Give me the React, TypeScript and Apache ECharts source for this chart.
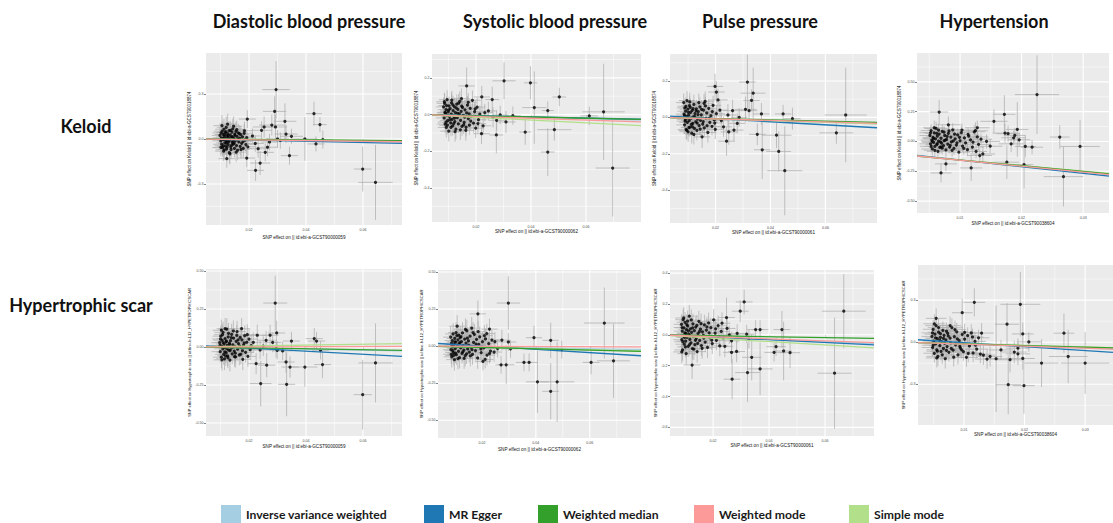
import React, { useEffect, useRef } from "react";
import * as echarts from "echarts";

// ---------- labels ----------
const METHODS = ["Inverse variance weighted", "MR Egger", "Weighted median", "Weighted mode", "Simple mode"];
const METHOD_COLORS = ["#a6cee3", "#1f78b4", "#33a02c", "#fb9a99", "#b2df8a"];
// ggplot draws the ablines in alphabetical order: IVW, Egger, Simple mode, W. median, W. mode
const DRAW_ORDER = [0, 1, 4, 2, 3];
const COLUMN_TITLES = ["Diastolic blood pressure", "Systolic blood pressure", "Pulse pressure", "Hypertension"];
const ROW_LABELS = ["Keloid", "Hypertrophic scar"];
const X_TITLES = [
  "SNP effect on || id:ebi-a-GCST90000059",
  "SNP effect on || id:ebi-a-GCST90000062",
  "SNP effect on || id:ebi-a-GCST90000061",
  "SNP effect on || id:ebi-a-GCST90038604",
];
const Y_TITLES = [
  "SNP effect on Keloid || id:ebi-a-GCST90018874",
  "SNP effect on Hypertrophic scar || id:finn-b-L12_HYPETROPHICSCAR",
];

// ---------- tick values ----------
const xTicksBP = [0.02, 0.04, 0.06];
const xMinorBP = [0.01, 0.03, 0.05, 0.07];
const xTicksHyp = [0.01, 0.02, 0.03];
const xMinorHyp = [0.005, 0.015, 0.025];
const yTicks03 = [-0.3, 0, 0.3];
const yMinor03 = [-0.45, -0.15, 0.15, 0.45];
const yTicks02 = [-0.4, -0.2, 0, 0.2];
const yMinor02 = [-0.5, -0.3, -0.1, 0.1, 0.3];
const yTicks025 = [-0.5, -0.25, 0, 0.25, 0.5];
const yMinor025 = [-0.625, -0.375, -0.125, 0.125, 0.375, 0.625];
const yTicks02b = [-0.6, -0.4, -0.2, 0, 0.2, 0.4];
const yMinor02b = [-0.5, -0.3, -0.1, 0.1, 0.3];

// ---------- SNP data: [beta exposure, beta outcome, se exposure, se outcome] ----------
const diaKeloid = [
  [0.0098,0.024,0.0028,0.055],[0.0101,-0.012,0.0029,0.06],[0.0103,0.008,0.003,0.058],[0.0104,-0.035,0.003,0.062],[0.0106,0.052,0.003,0.065],
  [0.0107,-0.058,0.0031,0.06],[0.0109,0.031,0.003,0.057],[0.011,-0.004,0.0032,0.05],[0.0111,-0.081,0.003,0.066],[0.0112,0.065,0.0031,0.07],
  [0.0113,0.014,0.003,0.052],[0.0115,-0.026,0.003,0.055],[0.0116,0.043,0.0032,0.06],[0.0117,-0.047,0.003,0.058],[0.0119,0.002,0.003,0.05],
  [0.012,0.078,0.0033,0.07],[0.0121,-0.068,0.003,0.062],[0.0122,0.021,0.003,0.055],[0.0124,-0.016,0.0031,0.052],[0.0125,0.036,0.003,0.06],
  [0.0127,-0.038,0.0031,0.057],[0.0128,0.009,0.003,0.05],[0.013,0.056,0.0033,0.063],[0.0131,-0.091,0.003,0.07],[0.0133,-0.006,0.0031,0.053],
  [0.0134,0.027,0.003,0.058],[0.0136,-0.052,0.0032,0.06],[0.0138,0.012,0.003,0.05],[0.014,0.046,0.0033,0.064],[0.0141,-0.022,0.003,0.056],
  [0.0143,0.068,0.0031,0.066],[0.0145,-0.034,0.003,0.058],[0.0147,0.004,0.0032,0.052],[0.0149,-0.063,0.003,0.06],[0.015,0.033,0.0031,0.059],
  [0.0152,-0.011,0.003,0.054],[0.0154,0.051,0.0032,0.064],[0.0156,-0.044,0.003,0.058],[0.0158,0.017,0.003,0.055],[0.016,-0.075,0.0031,0.065],
  [0.0162,0.041,0.003,0.06],[0.0164,-0.019,0.0032,0.057],[0.0167,0.006,0.003,0.054],[0.0169,-0.05,0.003,0.06],[0.0171,0.029,0.0031,0.058],
  [0.0174,-0.029,0.003,0.06],[0.0177,0.014,0.0032,0.055],[0.018,-0.062,0.003,0.063],[0.0183,0.038,0.0031,0.06],[0.0186,-0.008,0.003,0.056],
  [0.0189,-0.037,0.003,0.058],[0.0192,0.009,0.0031,0.055],[0.0196,-0.052,0.003,0.06],
  [0.0102,0.041,0.003,0.06],[0.0118,-0.009,0.003,0.055],[0.0109,-0.045,0.003,0.06],[0.0135,0.058,0.003,0.06],[0.0127,0.024,0.003,0.055],
  [0.0113,-0.072,0.003,0.065],[0.0148,-0.028,0.003,0.055],[0.0142,0.016,0.003,0.055],[0.0123,-0.054,0.003,0.06],[0.0105,0.089,0.003,0.07],
  [0.0157,0.062,0.003,0.06],[0.0133,-0.099,0.003,0.07],[0.0161,-0.003,0.003,0.055],[0.0119,0.049,0.003,0.06],[0.0139,-0.041,0.003,0.058],
  [0.0172,-0.07,0.003,0.06],[0.0108,0.003,0.003,0.052],[0.0151,0.024,0.003,0.056],[0.0129,-0.018,0.003,0.055],[0.0146,0.085,0.003,0.065],
  [0.0114,0.028,0.003,0.056],[0.0166,0.036,0.003,0.058],[0.0125,0.099,0.003,0.07],[0.0179,-0.018,0.003,0.057],[0.0137,-0.07,0.003,0.06],
  [0.0101,-0.056,0.003,0.06],[0.0155,-0.088,0.003,0.065],[0.0184,0.055,0.003,0.06],[0.0121,-0.028,0.003,0.055],[0.0144,-0.012,0.003,0.055],
  [0.0295,0.329,0.0048,0.19],[0.029,0.184,0.0041,0.1],[0.0326,0.118,0.004,0.12],[0.028,0.093,0.0045,0.07],[0.0293,0.08,0.004,0.08],
  [0.0194,0.133,0.003,0.06],[0.0244,0.058,0.0035,0.06],[0.0253,0.08,0.004,0.07],[0.03,0.0,0.004,0.06],[0.031,-0.01,0.0038,0.055],
  [0.0428,0.169,0.0028,0.08],[0.0449,0.096,0.0024,0.05],[0.0459,-0.004,0.0035,0.06],[0.0435,-0.033,0.003,0.05],[0.0396,0.0,0.0044,0.145],
  [0.0342,-0.111,0.003,0.06],[0.0349,0.018,0.004,0.05],[0.033,0.033,0.004,0.06],[0.0192,-0.127,0.003,0.06],[0.0122,-0.131,0.003,0.06],
  [0.0223,-0.209,0.003,0.07],[0.0239,-0.16,0.0035,0.08],[0.0257,-0.089,0.003,0.06],[0.0265,-0.055,0.0035,0.06],[0.0272,-0.02,0.003,0.055],
  [0.0222,-0.03,0.003,0.055],[0.0232,-0.065,0.003,0.06],[0.0212,0.02,0.003,0.05],[0.0599,-0.2,0.0031,0.15],[0.0644,-0.289,0.006,0.25],
];

const sysKeloid = [
  [0.0082,0.042,0.0028,0.05],[0.0084,-0.018,0.003,0.048],[0.0086,0.061,0.0029,0.052],[0.0088,-0.052,0.003,0.05],[0.0089,0.008,0.0028,0.045],
  [0.0091,0.027,0.003,0.05],[0.0092,-0.07,0.0031,0.055],[0.0094,-0.003,0.003,0.046],[0.0095,0.081,0.003,0.052],[0.0097,-0.033,0.0029,0.05],
  [0.0099,0.015,0.003,0.047],[0.0101,-0.09,0.0031,0.056],[0.0102,0.048,0.003,0.05],[0.0104,-0.011,0.003,0.046],[0.0106,0.032,0.0029,0.05],
  [0.0108,-0.045,0.003,0.052],[0.011,0.002,0.003,0.045],[0.0111,0.064,0.0031,0.054],[0.0113,-0.026,0.003,0.048],[0.0115,-0.062,0.003,0.052],
  [0.0117,0.021,0.0029,0.047],[0.0119,-0.008,0.003,0.046],[0.0121,0.044,0.003,0.05],[0.0123,-0.038,0.0031,0.05],[0.0125,0.011,0.003,0.046],
  [0.0127,-0.079,0.003,0.055],[0.013,0.057,0.0031,0.052],[0.0132,-0.017,0.003,0.047],[0.0134,0.029,0.003,0.049],[0.0136,-0.051,0.003,0.05],
  [0.0139,0.004,0.003,0.046],[0.0141,0.072,0.0032,0.055],[0.0144,-0.031,0.003,0.048],[0.0146,0.018,0.003,0.047],[0.0149,-0.064,0.0031,0.052],
  [0.0151,0.039,0.003,0.05],[0.0154,-0.005,0.003,0.046],[0.0157,-0.042,0.003,0.05],[0.016,0.026,0.0031,0.049],[0.0163,-0.086,0.003,0.056],
  [0.0166,0.009,0.003,0.047],[0.0169,0.052,0.0031,0.05],[0.0172,-0.022,0.003,0.048],[0.0176,-0.058,0.003,0.052],[0.0179,0.034,0.003,0.05],
  [0.0183,-0.01,0.0031,0.047],[0.0187,0.078,0.003,0.053],[0.0191,-0.047,0.003,0.05],[0.0195,0.016,0.003,0.048],[0.0199,-0.074,0.0031,0.054],
  [0.0204,0.041,0.003,0.05],[0.0209,-0.028,0.003,0.049],[0.0214,0.003,0.0031,0.047],[0.022,-0.104,0.003,0.056],[0.0226,-0.061,0.003,0.05],
  [0.0232,0.011,0.003,0.048],
  [0.0087,0.012,0.003,0.05],[0.0112,0.079,0.003,0.05],[0.0096,-0.058,0.003,0.05],[0.0128,0.036,0.003,0.05],[0.0105,-0.028,0.003,0.05],
  [0.0143,-0.083,0.003,0.055],[0.0093,0.049,0.003,0.05],[0.0119,-0.049,0.003,0.05],[0.0137,0.062,0.003,0.05],[0.0159,-0.014,0.003,0.05],
  [0.01,0.024,0.003,0.05],[0.0124,-0.093,0.003,0.055],[0.0148,0.046,0.003,0.05],[0.0172,0.067,0.003,0.05],[0.0109,-0.069,0.003,0.05],
  [0.0133,0.007,0.003,0.05],[0.0181,-0.035,0.003,0.05],[0.0155,-0.056,0.003,0.05],[0.0091,-0.041,0.003,0.05],[0.0116,0.053,0.003,0.05],
  [0.0197,0.031,0.003,0.05],[0.0164,-0.069,0.003,0.05],[0.0139,-0.004,0.003,0.05],[0.0085,0.07,0.003,0.05],[0.0207,-0.049,0.003,0.05],
  [0.0122,-0.019,0.003,0.05],[0.0175,0.004,0.003,0.05],[0.0147,0.087,0.003,0.055],
  [0.0166,0.156,0.003,0.1],[0.0302,0.184,0.0042,0.1],[0.0398,0.173,0.0024,0.09],[0.0412,0.038,0.0044,0.197],[0.0461,0.022,0.0022,0.05],
  [0.0503,0.096,0.0025,0.05],[0.0379,-0.095,0.0022,0.07],[0.0485,-0.082,0.0062,0.06],[0.0461,-0.204,0.0025,0.13],[0.0612,-0.007,0.0032,0.05],
  [0.0664,0.015,0.0077,0.262],[0.0697,-0.291,0.0062,0.264],[0.0274,-0.111,0.0025,0.1],[0.0259,0.082,0.0025,0.07],[0.0309,-0.04,0.0035,0.06],
  [0.0275,-0.031,0.003,0.055],[0.0221,0.096,0.003,0.06],[0.0245,0.02,0.003,0.05],[0.0262,-0.015,0.0035,0.055],[0.0288,-0.002,0.003,0.05],
  [0.0334,-0.006,0.003,0.05],
];

const pulseKeloid = [
  [0.0084,0.081,0.0028,0.05],[0.0085,0.018,0.003,0.048],[0.0087,-0.041,0.003,0.05],[0.0088,0.052,0.0029,0.05],[0.009,-0.012,0.003,0.046],
  [0.0091,0.034,0.003,0.049],[0.0093,-0.066,0.0031,0.055],[0.0094,0.006,0.003,0.046],[0.0096,0.092,0.003,0.052],[0.0097,-0.028,0.0029,0.048],
  [0.0099,0.045,0.003,0.05],[0.01,-0.079,0.0031,0.055],[0.0102,0.012,0.003,0.046],[0.0104,-0.018,0.003,0.047],[0.0105,0.064,0.003,0.052],
  [0.0107,-0.053,0.003,0.05],[0.0109,0.027,0.0029,0.048],[0.0111,-0.004,0.003,0.046],[0.0113,-0.087,0.0031,0.056],[0.0115,0.039,0.003,0.05],
  [0.0117,-0.033,0.003,0.048],[0.0119,0.003,0.003,0.046],[0.0121,0.071,0.0031,0.053],[0.0123,-0.061,0.003,0.052],[0.0125,0.021,0.003,0.048],
  [0.0128,-0.024,0.0031,0.048],[0.013,0.047,0.003,0.05],[0.0132,-0.072,0.003,0.054],[0.0135,-0.009,0.003,0.046],[0.0137,0.031,0.0031,0.049],
  [0.014,-0.045,0.003,0.05],[0.0143,0.058,0.003,0.052],[0.0145,-0.016,0.003,0.047],[0.0148,0.014,0.0031,0.047],[0.0151,-0.107,0.003,0.06],
  [0.0153,-0.037,0.003,0.049],[0.0156,0.04,0.003,0.05],[0.0159,-0.058,0.0031,0.052],[0.0162,0.088,0.003,0.054],[0.0165,-0.006,0.003,0.046],
  [0.0168,0.024,0.003,0.048],[0.0172,-0.083,0.0031,0.055],[0.0175,0.05,0.003,0.05],[0.0179,-0.027,0.003,0.048],[0.0183,0.009,0.003,0.047],
  [0.0187,-0.049,0.0031,0.05],[0.0191,0.066,0.003,0.052],[0.0195,-0.014,0.003,0.047],[0.0199,-0.066,0.003,0.053],[0.0203,0.02,0.0031,0.048],
  [0.0089,-0.021,0.003,0.05],[0.0108,0.055,0.003,0.05],[0.0095,-0.072,0.003,0.05],[0.0124,0.004,0.003,0.05],[0.0101,0.028,0.003,0.05],
  [0.0139,0.081,0.003,0.05],[0.0092,0.061,0.003,0.05],[0.0116,-0.052,0.003,0.05],[0.0133,-0.031,0.003,0.05],[0.0149,0.044,0.003,0.05],
  [0.0098,-0.003,0.003,0.05],[0.0121,-0.094,0.003,0.055],[0.0144,-0.064,0.003,0.05],[0.0163,0.063,0.003,0.05],[0.0106,0.085,0.003,0.05],
  [0.0129,0.036,0.003,0.05],[0.0177,-0.006,0.003,0.05],[0.0155,-0.023,0.003,0.05],[0.0087,0.009,0.003,0.05],[0.0112,-0.039,0.003,0.05],
  [0.0188,0.032,0.003,0.05],[0.0169,-0.046,0.003,0.05],[0.0136,0.015,0.003,0.05],[0.0103,-0.056,0.003,0.05],[0.0197,-0.031,0.003,0.05],
  [0.0118,0.048,0.003,0.05],[0.0158,0.077,0.003,0.05],
  [0.0316,0.194,0.003,0.15],[0.0337,0.133,0.0045,0.14],[0.0331,0.093,0.003,0.06],[0.0322,0.037,0.003,0.06],[0.0309,0.044,0.004,0.07],
  [0.0198,0.17,0.003,0.07],[0.0203,0.139,0.003,0.06],[0.0209,0.096,0.0035,0.06],[0.0367,0.019,0.003,0.06],[0.0352,-0.093,0.003,0.06],
  [0.037,-0.178,0.003,0.16],[0.0422,-0.098,0.0055,0.07],[0.0446,0.019,0.003,0.05],[0.048,-0.007,0.003,0.06],[0.043,-0.187,0.0045,0.11],
  [0.0452,-0.293,0.0064,0.245],[0.0674,0.013,0.0077,0.26],[0.064,-0.085,0.0062,0.06],[0.024,-0.131,0.003,0.08],[0.0248,-0.08,0.003,0.07],
  [0.0267,-0.07,0.0035,0.06],[0.0245,0.013,0.003,0.06],[0.0286,0.0,0.003,0.05],[0.0262,0.037,0.0035,0.06],[0.0279,-0.033,0.003,0.055],
  [0.0221,-0.018,0.003,0.05],[0.0229,-0.052,0.003,0.055],[0.0216,0.04,0.003,0.055],
];

const hypKeloid = [
  [0.0051,0.05,0.0017,0.05],[0.0052,-0.02,0.0018,0.052],[0.0053,0.091,0.0017,0.055],[0.0054,0.012,0.0018,0.048],[0.0055,-0.063,0.0018,0.056],
  [0.0056,0.034,0.0017,0.05],[0.0057,-0.008,0.0018,0.05],[0.0058,0.073,0.0018,0.054],[0.0059,-0.041,0.0017,0.052],[0.006,0.021,0.0018,0.049],
  [0.0061,0.109,0.0019,0.058],[0.0062,-0.027,0.0018,0.05],[0.0063,0.044,0.0018,0.05],[0.0064,-0.083,0.0018,0.058],[0.0065,0.002,0.0017,0.048],
  [0.0066,0.062,0.0018,0.052],[0.0067,-0.05,0.0018,0.053],[0.0069,0.027,0.0018,0.05],[0.007,-0.014,0.0017,0.049],[0.0071,0.085,0.0019,0.056],
  [0.0073,-0.034,0.0018,0.051],[0.0074,0.008,0.0018,0.048],[0.0075,0.05,0.0018,0.05],[0.0077,-0.071,0.0018,0.056],[0.0078,0.017,0.0017,0.049],
  [0.008,-0.022,0.0018,0.05],[0.0081,0.068,0.0018,0.053],[0.0083,-0.047,0.0018,0.052],[0.0085,0.037,0.0019,0.05],[0.0086,-0.004,0.0018,0.048],
  [0.0088,0.098,0.0018,0.056],[0.009,-0.058,0.0018,0.054],[0.0092,0.022,0.0018,0.049],[0.0094,-0.03,0.0019,0.05],[0.0096,0.055,0.0018,0.052],
  [0.0098,-0.09,0.0018,0.058],[0.01,0.006,0.0018,0.048],[0.0102,0.074,0.0019,0.054],[0.0104,-0.039,0.0018,0.05],[0.0107,0.03,0.0018,0.05],
  [0.0109,-0.012,0.0018,0.049],[0.0112,-0.069,0.0019,0.055],[0.0114,0.045,0.0018,0.05],[0.0117,0.013,0.0018,0.048],[0.012,-0.047,0.0019,0.052],
  [0.0123,0.081,0.0018,0.054],[0.0126,-0.084,0.0018,0.057],[0.013,-0.025,0.0019,0.05],[0.0134,0.019,0.0018,0.048],
  [0.0053,-0.041,0.0018,0.05],[0.0062,0.067,0.0018,0.05],[0.0057,0.025,0.0018,0.05],[0.0071,-0.056,0.0018,0.05],[0.0059,-0.074,0.0018,0.055],
  [0.0079,0.042,0.0018,0.05],[0.0065,0.095,0.0018,0.055],[0.0068,-0.003,0.0018,0.05],[0.0084,-0.032,0.0018,0.05],[0.0055,0.0,0.0018,0.05],
  [0.0074,0.078,0.0018,0.05],[0.0091,0.061,0.0018,0.05],[0.0063,-0.019,0.0018,0.05],[0.0087,-0.075,0.0018,0.055],[0.0099,0.035,0.0018,0.05],
  [0.0076,0.011,0.0018,0.05],[0.0106,-0.058,0.0018,0.05],[0.0058,0.115,0.0018,0.06],[0.0082,0.088,0.0018,0.055],[0.0095,-0.011,0.0018,0.05],
  [0.0113,0.06,0.0018,0.05],[0.0069,-0.045,0.0018,0.05],[0.0121,-0.006,0.0018,0.05],[0.0103,0.096,0.0018,0.055],[0.0052,0.073,0.0018,0.05],
  [0.0128,0.038,0.0018,0.05],[0.0089,0.004,0.0018,0.05],
  [0.0225,0.393,0.0036,0.33],[0.0172,0.228,0.0018,0.16],[0.0155,0.169,0.0022,0.1],[0.0193,0.101,0.0018,0.23],[0.0173,0.07,0.002,0.08],
  [0.0178,0.065,0.0019,0.07],[0.0189,0.051,0.0018,0.06],[0.0187,0.031,0.002,0.06],[0.0196,0.014,0.0018,0.06],[0.0183,-0.02,0.002,0.07],
  [0.0206,-0.042,0.0017,0.09],[0.0217,-0.048,0.0018,0.06],[0.0176,-0.174,0.002,0.14],[0.0204,-0.194,0.0015,0.2],[0.0262,0.037,0.0016,0.1],
  [0.0295,-0.042,0.0032,0.22],[0.0268,-0.295,0.0032,0.25],[0.0066,0.247,0.0015,0.1],[0.0069,-0.264,0.0017,0.08],[0.0077,-0.188,0.0018,0.06],
  [0.0081,0.14,0.002,0.07],[0.0118,-0.222,0.0018,0.11],[0.0128,0.115,0.002,0.06],[0.0143,0.0,0.0022,0.06],[0.0137,-0.105,0.002,0.06],
  [0.0132,-0.118,0.002,0.06],[0.0149,-0.04,0.002,0.06],[0.0125,0.09,0.002,0.07],
];

const diaScar = [
  [0.0097,0.028,0.003,0.065],[0.0099,-0.031,0.003,0.07],[0.0101,0.071,0.0029,0.068],[0.0103,-0.067,0.003,0.072],[0.0104,0.006,0.003,0.062],
  [0.0106,0.044,0.0031,0.066],[0.0108,-0.012,0.003,0.064],[0.0109,0.096,0.003,0.07],[0.0111,-0.049,0.003,0.068],[0.0113,0.019,0.0029,0.063],
  [0.0114,-0.078,0.003,0.074],[0.0116,0.055,0.003,0.066],[0.0117,-0.004,0.003,0.062],[0.0119,0.033,0.0031,0.065],[0.012,-0.038,0.003,0.066],
  [0.0122,0.118,0.003,0.072],[0.0124,0.011,0.003,0.063],[0.0125,-0.059,0.0031,0.07],[0.0127,0.067,0.003,0.068],[0.0129,-0.021,0.003,0.064],
  [0.0131,0.025,0.003,0.064],[0.0133,-0.086,0.0031,0.074],[0.0135,0.041,0.003,0.066],[0.0137,-0.008,0.003,0.063],[0.0139,0.083,0.003,0.07],
  [0.0141,-0.045,0.0031,0.067],[0.0143,0.014,0.003,0.063],[0.0146,0.058,0.003,0.067],[0.0148,-0.027,0.003,0.064],[0.015,0.002,0.0031,0.062],
  [0.0153,-0.066,0.003,0.07],[0.0155,0.036,0.003,0.065],[0.0158,0.101,0.003,0.071],[0.016,-0.015,0.0031,0.064],[0.0163,0.022,0.003,0.064],
  [0.0166,-0.053,0.003,0.068],[0.0169,0.063,0.003,0.067],[0.0172,-0.003,0.0031,0.062],[0.0175,0.047,0.003,0.066],[0.0178,-0.081,0.003,0.072],
  [0.0181,0.012,0.003,0.063],[0.0185,0.074,0.0031,0.068],[0.0188,-0.036,0.003,0.066],[0.0192,0.031,0.003,0.064],[0.0196,-0.062,0.003,0.069],
  [0.02,0.052,0.0031,0.066],[0.0204,-0.018,0.003,0.064],[0.0208,0.008,0.003,0.063],
  [0.01,0.052,0.003,0.065],[0.0118,-0.059,0.003,0.065],[0.0107,0.081,0.003,0.068],[0.0134,-0.024,0.003,0.064],[0.0112,-0.002,0.003,0.062],
  [0.0145,0.105,0.003,0.07],[0.0121,0.038,0.003,0.064],[0.0105,-0.085,0.003,0.07],[0.0128,0.09,0.003,0.068],[0.0152,-0.041,0.003,0.065],
  [0.0098,0.01,0.003,0.063],[0.0138,0.061,0.003,0.066],[0.0162,0.047,0.003,0.065],[0.0115,-0.033,0.003,0.064],[0.0126,-0.071,0.003,0.068],
  [0.0171,-0.048,0.003,0.066],[0.0142,-0.003,0.003,0.062],[0.0109,0.029,0.003,0.063],[0.0157,0.076,0.003,0.067],[0.0132,0.016,0.003,0.063],
  [0.0183,0.026,0.003,0.064],[0.0149,-0.064,0.003,0.067],[0.0194,0.081,0.003,0.068],[0.0123,-0.013,0.003,0.063],[0.0167,0.006,0.003,0.063],
  [0.0103,0.11,0.003,0.07],[0.0177,-0.025,0.003,0.064],
  [0.0292,0.289,0.0042,0.18],[0.0332,-0.246,0.003,0.21],[0.0241,-0.241,0.0038,0.15],[0.0599,-0.314,0.0032,0.23],[0.0644,-0.105,0.006,0.26],
  [0.0429,0.055,0.003,0.07],[0.0437,0.039,0.003,0.06],[0.0458,-0.116,0.003,0.09],[0.0451,-0.022,0.003,0.06],[0.0396,-0.132,0.0044,0.13],
  [0.0344,-0.132,0.003,0.07],[0.0349,0.039,0.003,0.06],[0.033,-0.099,0.003,0.07],[0.0297,0.092,0.003,0.08],[0.026,0.044,0.003,0.06],
  [0.0274,0.077,0.003,0.07],[0.0262,-0.12,0.003,0.08],[0.0225,-0.11,0.003,0.07],[0.0229,0.077,0.003,0.07],[0.0239,-0.02,0.003,0.06],
  [0.0295,-0.011,0.003,0.06],[0.0299,-0.022,0.003,0.06],[0.0318,-0.026,0.0035,0.06],[0.0174,0.12,0.003,0.07],[0.0116,0.12,0.003,0.07],
  [0.0215,0.03,0.003,0.065],[0.025,0.005,0.0035,0.065],[0.0283,0.03,0.003,0.065],
];

const sysScar = [
  [0.0084,0.061,0.0028,0.07],[0.0085,-0.024,0.003,0.068],[0.0087,0.019,0.003,0.066],[0.0088,-0.072,0.003,0.072],[0.009,0.038,0.0029,0.068],
  [0.0091,-0.005,0.003,0.065],[0.0093,0.083,0.003,0.072],[0.0094,-0.043,0.003,0.068],[0.0096,0.01,0.0029,0.064],[0.0098,-0.091,0.0031,0.075],
  [0.0099,0.052,0.003,0.07],[0.0101,-0.016,0.003,0.066],[0.0103,0.027,0.003,0.066],[0.0105,-0.058,0.003,0.07],[0.0107,0.071,0.0031,0.072],
  [0.0109,-0.002,0.003,0.064],[0.0111,0.043,0.003,0.068],[0.0113,-0.035,0.003,0.067],[0.0115,0.015,0.003,0.065],[0.0117,-0.078,0.0031,0.073],
  [0.0119,0.058,0.003,0.07],[0.0121,-0.011,0.003,0.065],[0.0124,0.031,0.003,0.066],[0.0126,-0.049,0.0031,0.069],[0.0128,0.089,0.003,0.073],
  [0.0131,0.004,0.003,0.064],[0.0133,-0.027,0.003,0.066],[0.0136,0.048,0.0031,0.069],[0.0138,-0.064,0.003,0.071],[0.0141,0.021,0.003,0.065],
  [0.0144,0.104,0.003,0.074],[0.0147,-0.019,0.0031,0.066],[0.015,0.035,0.003,0.067],[0.0153,-0.041,0.003,0.068],[0.0156,0.067,0.003,0.07],
  [0.0159,-0.007,0.0031,0.065],[0.0162,0.122,0.003,0.075],[0.0165,-0.055,0.003,0.07],[0.0169,0.025,0.003,0.066],[0.0172,0.079,0.0031,0.071],
  [0.0176,-0.03,0.003,0.067],[0.018,0.045,0.003,0.068],[0.0184,-0.08,0.003,0.073],[0.0188,0.012,0.0031,0.065],[0.0192,0.062,0.003,0.07],
  [0.0197,-0.044,0.003,0.068],[0.0202,0.03,0.003,0.066],[0.0207,-0.012,0.0031,0.066],[0.0213,0.049,0.003,0.068],[0.0219,-0.061,0.003,0.07],
  [0.0225,0.017,0.003,0.066],[0.0232,-0.033,0.0031,0.067],[0.0237,0.041,0.003,0.068],
  [0.0089,0.004,0.003,0.066],[0.0104,0.092,0.003,0.07],[0.0095,-0.063,0.003,0.068],[0.0122,0.064,0.003,0.068],[0.0099,0.029,0.003,0.066],
  [0.0134,-0.083,0.003,0.07],[0.0092,-0.031,0.003,0.066],[0.0114,0.075,0.003,0.07],[0.0129,-0.038,0.003,0.067],[0.0146,0.054,0.003,0.068],
  [0.0102,-0.047,0.003,0.067],[0.0118,0.023,0.003,0.066],[0.0139,0.113,0.003,0.074],[0.0157,-0.066,0.003,0.07],[0.0108,0.135,0.003,0.075],
  [0.0125,-0.004,0.003,0.065],[0.0167,0.091,0.003,0.071],[0.0151,0.006,0.003,0.065],[0.0086,-0.055,0.003,0.068],[0.0111,-0.084,0.003,0.072],
  [0.0178,0.014,0.003,0.066],[0.0163,-0.024,0.003,0.066],[0.0186,0.098,0.003,0.072],[0.0143,-0.052,0.003,0.068],[0.0196,-0.019,0.003,0.066],
  [0.0209,0.071,0.003,0.07],[0.0228,-0.05,0.003,0.067],
  [0.0298,0.291,0.0043,0.18],[0.0185,0.218,0.003,0.09],[0.0228,0.115,0.003,0.07],[0.0274,0.041,0.003,0.07],[0.0298,0.028,0.003,0.06],
  [0.0306,-0.018,0.003,0.06],[0.0271,-0.126,0.0021,0.06],[0.029,-0.126,0.003,0.13],[0.0258,-0.016,0.003,0.06],[0.0393,0.057,0.003,0.08],
  [0.0356,-0.11,0.003,0.06],[0.0375,-0.11,0.003,0.06],[0.0406,-0.241,0.0043,0.21],[0.0455,0.039,0.003,0.12],[0.0479,-0.241,0.0064,0.27],
  [0.0455,-0.305,0.0031,0.19],[0.0496,-0.023,0.003,0.06],[0.0605,-0.11,0.0031,0.08],[0.0654,0.156,0.0075,0.24],[0.0688,-0.099,0.0061,0.25],
  [0.0204,-0.103,0.003,0.06],[0.0212,-0.09,0.003,0.06],[0.0245,-0.04,0.003,0.065],[0.0248,0.03,0.003,0.065],[0.0218,0.085,0.003,0.065],
];

const pulseScar = [
  [0.0087,0.068,0.0028,0.065],[0.0088,-0.032,0.003,0.066],[0.009,0.024,0.003,0.062],[0.0091,-0.098,0.003,0.07],[0.0093,0.098,0.0029,0.068],
  [0.0094,-0.008,0.003,0.062],[0.0096,0.045,0.003,0.064],[0.0097,-0.061,0.0031,0.068],[0.0099,0.012,0.003,0.062],[0.01,0.081,0.003,0.066],
  [0.0102,-0.041,0.003,0.065],[0.0104,-0.122,0.0031,0.072],[0.0105,0.033,0.003,0.063],[0.0107,-0.017,0.003,0.062],[0.0109,0.057,0.003,0.066],
  [0.0111,-0.075,0.0031,0.069],[0.0113,0.004,0.003,0.061],[0.0115,0.121,0.003,0.072],[0.0117,-0.029,0.003,0.064],[0.0119,0.039,0.0031,0.064],
  [0.0121,-0.052,0.003,0.066],[0.0123,0.016,0.003,0.062],[0.0126,-0.089,0.003,0.07],[0.0128,0.071,0.0031,0.067],[0.013,-0.011,0.003,0.062],
  [0.0133,0.027,0.003,0.063],[0.0135,-0.064,0.003,0.068],[0.0138,0.05,0.0031,0.065],[0.014,-0.023,0.003,0.063],[0.0143,-0.109,0.003,0.071],
  [0.0146,0.008,0.003,0.062],[0.0149,0.087,0.0031,0.068],[0.0152,-0.037,0.003,0.064],[0.0155,0.036,0.003,0.064],[0.0158,-0.07,0.003,0.068],
  [0.0162,0.019,0.0031,0.063],[0.0165,-0.004,0.003,0.062],[0.0169,0.064,0.003,0.066],[0.0172,-0.047,0.003,0.066],[0.0176,0.03,0.0031,0.064],
  [0.018,-0.082,0.003,0.069],[0.0184,0.077,0.003,0.067],[0.0188,-0.019,0.003,0.063],[0.0192,0.046,0.0031,0.065],[0.0197,-0.057,0.003,0.067],
  [0.0202,0.096,0.003,0.069],[0.0207,0.011,0.003,0.062],[0.0212,-0.036,0.0031,0.065],[0.0218,0.059,0.003,0.066],[0.0224,-0.072,0.003,0.068],
  [0.0229,0.022,0.003,0.063],
  [0.0089,0.047,0.003,0.064],[0.0101,-0.079,0.003,0.068],[0.0095,0.109,0.003,0.07],[0.0118,-0.007,0.003,0.062],[0.0106,0.066,0.003,0.066],
  [0.0131,-0.093,0.003,0.07],[0.0092,-0.045,0.003,0.065],[0.0112,0.025,0.003,0.063],[0.0127,0.045,0.003,0.065],[0.0145,-0.056,0.003,0.066],
  [0.0098,-0.017,0.003,0.063],[0.0122,0.096,0.003,0.068],[0.0137,-0.036,0.003,0.064],[0.0157,0.072,0.003,0.066],[0.0103,0.009,0.003,0.062],
  [0.0116,-0.063,0.003,0.067],[0.0167,-0.021,0.003,0.064],[0.0151,0.02,0.003,0.063],[0.0088,-0.111,0.003,0.072],[0.0109,0.089,0.003,0.068],
  [0.0178,0.051,0.003,0.065],[0.0161,-0.088,0.003,0.068],[0.0186,0.012,0.003,0.063],[0.0142,0.061,0.003,0.065],[0.0195,-0.034,0.003,0.064],
  [0.0209,0.039,0.003,0.064],[0.0221,-0.014,0.003,0.063],
  [0.0311,0.213,0.003,0.08],[0.0297,0.153,0.003,0.07],[0.0248,0.112,0.003,0.13],[0.025,0.041,0.003,0.07],[0.0286,0.009,0.003,0.06],
  [0.0266,-0.039,0.003,0.06],[0.0266,-0.114,0.003,0.07],[0.0284,-0.108,0.003,0.07],[0.0268,-0.288,0.003,0.13],[0.032,0.004,0.003,0.06],
  [0.0328,-0.028,0.003,0.06],[0.0338,-0.146,0.0035,0.15],[0.0323,-0.245,0.0044,0.19],[0.0352,0.034,0.003,0.06],[0.0368,0.034,0.003,0.06],
  [0.0368,-0.221,0.0045,0.17],[0.0418,-0.114,0.0035,0.06],[0.0425,-0.077,0.0035,0.06],[0.0446,0.034,0.003,0.12],[0.0452,-0.105,0.003,0.19],
  [0.0475,-0.116,0.0036,0.1],[0.0667,0.153,0.0078,0.24],[0.0634,-0.249,0.0061,0.36],[0.0125,-0.196,0.003,0.09],[0.0236,-0.02,0.003,0.06],
  [0.0242,-0.075,0.003,0.07],[0.0232,0.075,0.003,0.07],[0.0258,0.0,0.0035,0.06],
];

const hypScar = [
  [0.0047,0.041,0.0017,0.06],[0.0048,-0.038,0.0018,0.062],[0.0049,0.092,0.0017,0.065],[0.005,0.008,0.0018,0.058],[0.0051,-0.079,0.0018,0.066],
  [0.0052,0.057,0.0017,0.06],[0.0053,-0.012,0.0018,0.059],[0.0054,0.118,0.0018,0.068],[0.0055,-0.054,0.0017,0.062],[0.0056,0.025,0.0018,0.058],
  [0.0057,-0.101,0.0019,0.068],[0.0058,0.071,0.0018,0.062],[0.006,-0.025,0.0018,0.06],[0.0061,0.034,0.0018,0.059],[0.0062,-0.066,0.0018,0.064],
  [0.0063,0.003,0.0017,0.057],[0.0065,0.084,0.0018,0.064],[0.0066,-0.045,0.0018,0.061],[0.0067,0.049,0.0018,0.06],[0.0069,-0.118,0.0017,0.07],
  [0.007,0.016,0.0019,0.058],[0.0072,-0.031,0.0018,0.06],[0.0073,0.063,0.0018,0.062],[0.0075,-0.072,0.0018,0.065],[0.0077,0.029,0.0017,0.059],
  [0.0078,-0.006,0.0018,0.057],[0.008,0.103,0.0018,0.066],[0.0082,-0.057,0.0018,0.063],[0.0084,0.039,0.0019,0.06],[0.0086,-0.019,0.0018,0.058],
  [0.0088,0.074,0.0018,0.063],[0.009,-0.091,0.0018,0.067],[0.0092,0.011,0.0018,0.058],[0.0094,-0.042,0.0019,0.061],[0.0097,0.055,0.0018,0.061],
  [0.0099,-0.068,0.0018,0.064],[0.0101,0.022,0.0018,0.059],[0.0104,-0.108,0.0019,0.068],[0.0106,0.046,0.0018,0.06],[0.0109,-0.027,0.0018,0.06],
  [0.0112,0.066,0.0019,0.062],[0.0115,-0.077,0.0018,0.065],[0.0118,0.006,0.0018,0.058],[0.0121,-0.049,0.0019,0.062],[0.0124,0.031,0.0018,0.059],
  [0.0127,-0.085,0.0018,0.066],
  [0.0049,-0.022,0.0018,0.06],[0.0058,0.104,0.0018,0.065],[0.0053,0.03,0.0018,0.06],[0.0064,-0.09,0.0018,0.065],[0.0056,-0.064,0.0018,0.062],
  [0.0071,0.078,0.0018,0.062],[0.0061,0.061,0.0018,0.062],[0.0068,-0.008,0.0018,0.058],[0.0079,-0.045,0.0018,0.06],[0.0051,0.131,0.0018,0.068],
  [0.0074,0.045,0.0018,0.06],[0.0085,0.09,0.0018,0.064],[0.006,0.012,0.0018,0.058],[0.0083,-0.107,0.0018,0.066],[0.0093,-0.03,0.0018,0.06],
  [0.0071,-0.058,0.0018,0.062],[0.0101,0.07,0.0018,0.062],[0.0055,-0.112,0.0018,0.068],[0.0077,0.118,0.0018,0.066],[0.0089,0.024,0.0018,0.058],
  [0.0107,-0.08,0.0018,0.064],[0.0066,0.027,0.0018,0.058],[0.0114,0.037,0.0018,0.06],[0.0096,-0.054,0.0018,0.062],[0.0048,0.066,0.0018,0.062],
  [0.0119,-0.021,0.0018,0.06],[0.0087,-0.008,0.0018,0.058],
  [0.0117,0.284,0.0018,0.1],[0.0097,0.21,0.0017,0.1],[0.0193,0.27,0.0033,0.23],[0.0171,0.128,0.002,0.15],[0.0197,0.059,0.0018,0.08],
  [0.0207,0.002,0.002,0.07],[0.0189,-0.043,0.002,0.07],[0.0189,-0.083,0.002,0.08],[0.0197,-0.116,0.002,0.08],[0.0176,-0.125,0.0022,0.09],
  [0.0153,-0.118,0.002,0.38],[0.0143,-0.102,0.002,0.07],[0.0173,-0.303,0.0021,0.21],[0.0199,-0.31,0.0018,0.2],[0.0228,-0.149,0.0028,0.17],
  [0.0265,0.064,0.0017,0.14],[0.0272,-0.102,0.0032,0.19],[0.03,-0.149,0.004,0.22],[0.0054,0.17,0.0017,0.07],[0.0132,-0.092,0.002,0.07],
  [0.0138,-0.12,0.002,0.07],[0.0129,0.065,0.002,0.07],[0.0161,-0.055,0.002,0.07],[0.0183,-0.07,0.002,0.08],
];

// ---------- MR estimates per panel, in METHODS order ----------
const slopeDiaKeloid = [-0.28, -0.42, -0.15, -0.25, -0.17];
const interceptDiaKeloid = [0, 0.002, 0, 0, 0];
const slopeSysKeloid = [-0.38, -0.33, -0.33, -0.5, -0.75];
const interceptSysKeloid = [0, 0.001, 0, 0, 0];
const slopePulseKeloid = [-0.45, -0.85, -0.35, -0.42, -0.45];
const interceptPulseKeloid = [0, 0.01, 0, 0, 0];
const slopeHypKeloid = [-5.2, -5.6, -4.8, -5.0, -4.7];
const interceptHypKeloid = [-0.105, -0.1, -0.108, -0.107, -0.108];
const slopeDiaScar = [-0.35, -1.0, -0.3, 0.05, 0.3];
const interceptDiaScar = [0, 0.012, 0, 0, 0];
const slopeSysScar = [-0.3, -1.1, -0.45, -0.07, -0.4];
const interceptSysScar = [0, 0.022, 0, 0, 0];
const slopePulseScar = [-0.75, -0.9, -0.3, -0.65, -1.1];
const interceptPulseScar = [0, 0.004, 0, 0, 0];
const slopeHypScar = [-1.4, -2.8, -1.2, -1.45, -1.1];
const interceptHypScar = [0, 0.024, 0, 0.001, 0];

// ---------- panel definitions ----------
const PANELS = [
  { data: diaKeloid, slope: slopeDiaKeloid, icpt: interceptDiaKeloid, x: [0.0049, 0.0737], y: [-0.573, 0.573], xt: xTicksBP, xm: xMinorBP, yt: yTicks03, ym: yMinor03, xd: 2, yd: 1, col: 0, row: 0 },
  { data: sysKeloid, slope: slopeSysKeloid, icpt: interceptSysKeloid, x: [0.004, 0.08], y: [-0.585, 0.33], xt: xTicksBP, xm: xMinorBP, yt: yTicks02, ym: yMinor02, xd: 2, yd: 1, col: 1, row: 0 },
  { data: pulseKeloid, slope: slopePulseKeloid, icpt: interceptPulseKeloid, x: [0.0034, 0.0788], y: [-0.58, 0.348], xt: xTicksBP, xm: xMinorBP, yt: yTicks02, ym: yMinor02, xd: 2, yd: 1, col: 2, row: 0 },
  { data: hypKeloid, slope: slopeHypKeloid, icpt: interceptHypKeloid, x: [0.003, 0.0342], y: [-0.6, 0.742], xt: xTicksHyp, xm: xMinorHyp, yt: yTicks025, ym: yMinor025, xd: 2, yd: 2, col: 3, row: 0 },
  { data: diaScar, slope: slopeDiaScar, icpt: interceptDiaScar, x: [0.0049, 0.0737], y: [-0.586, 0.513], xt: xTicksBP, xm: xMinorBP, yt: yTicks025, ym: yMinor025, xd: 2, yd: 2, col: 0, row: 1 },
  { data: sysScar, slope: slopeSysScar, icpt: interceptSysScar, x: [0.0037, 0.079], y: [-0.62, 0.514], xt: xTicksBP, xm: xMinorBP, yt: yTicks025, ym: yMinor025, xd: 2, yd: 2, col: 1, row: 1 },
  { data: pulseScar, slope: slopePulseScar, icpt: interceptPulseScar, x: [0.0046, 0.0775], y: [-0.656, 0.42], xt: xTicksBP, xm: xMinorBP, yt: yTicks02b, ym: yMinor02b, xd: 2, yd: 1, col: 2, row: 1 },
  { data: hypScar, slope: slopeHypScar, icpt: interceptHypScar, x: [0.0024, 0.0346], y: [-0.59, 0.55], xt: xTicksHyp, xm: xMinorHyp, yt: yTicks03, ym: yMinor03, xd: 2, yd: 1, col: 3, row: 1 },
];

// ---------- layout (pixels) ----------
const LAYOUT = [
  { left: 206, top: 53, width: 196, height: 172, xGap: 9.7, yGap: 13.7 },
  { left: 432, top: 54, width: 209, height: 168, xGap: 6.7, yGap: 12.7 },
  { left: 670, top: 54, width: 207, height: 169, xGap: 6.7, yGap: 12.7 },
  { left: 917, top: 53, width: 192, height: 160, xGap: 7.7, yGap: 13.7 },
  { left: 206, top: 269, width: 196, height: 167, xGap: 7.7, yGap: 13 },
  { left: 438, top: 270, width: 203, height: 168, xGap: 8.7, yGap: 13 },
  { left: 670, top: 270, width: 204, height: 166, xGap: 6.7, yGap: 13 },
  { left: 918, top: 265, width: 195, height: 160, xGap: 6.7, yGap: 11 },
];
const COL_TITLE_X = [309, 555, 760, 994];
const ROW_LABEL_POS = [[86, 126], [81, 305]];
const LEGEND_X = [221, 424, 538, 694, 849];

const TITLE_FONT = "Lato, 'Open Sans', sans-serif";
const AXIS_FONT = "'Liberation Sans', Arial, sans-serif";

function buildOption() {
  const grid: any[] = [];
  const xAxis: any[] = [];
  const yAxis: any[] = [];
  const series: any[] = [];

  PANELS.forEach((p, i) => {
    const L = LAYOUT[i];
    grid.push({
      left: L.left, top: L.top, width: L.width, height: L.height,
      show: true, backgroundColor: "#ebebeb", borderWidth: 0, containLabel: false,
    });
    xAxis.push({
      type: "value", gridIndex: i, min: p.x[0], max: p.x[1],
      splitLine: { show: false }, axisLine: { show: false },
      axisTick: { show: true, length: 2, lineStyle: { color: "#333", width: 0.6 }, customValues: p.xt },
      axisLabel: { customValues: p.xt, fontSize: 3.6, color: "#4d4d4d", margin: 2.5, fontFamily: AXIS_FONT,
        formatter: (v: number) => v.toFixed(p.xd) },
      name: X_TITLES[p.col], nameLocation: "middle", nameGap: L.xGap,
      nameTextStyle: { fontSize: 4.6, color: "#111", fontFamily: AXIS_FONT },
    });
    yAxis.push({
      type: "value", gridIndex: i, min: p.y[0], max: p.y[1],
      splitLine: { show: false }, axisLine: { show: false },
      axisTick: { show: true, length: 2, lineStyle: { color: "#333", width: 0.6 }, customValues: p.yt },
      axisLabel: { customValues: p.yt, fontSize: 3.6, color: "#4d4d4d", margin: 2.5, fontFamily: AXIS_FONT,
        formatter: (v: number) => v.toFixed(p.yd) },
      name: Y_TITLES[p.row], nameLocation: "middle", nameGap: L.yGap,
      nameTextStyle: { fontSize: p.row === 0 ? 4.5 : 4.1, color: "#111", fontFamily: AXIS_FONT },
    });

    // panel grid lines (major + minor), drawn through the axis scales
    const lines: number[][] = [];
    p.xt.forEach((v) => lines.push([0, v, 1]));
    p.xm.forEach((v) => lines.push([0, v, 0]));
    p.yt.forEach((v) => lines.push([1, v, 1]));
    p.ym.forEach((v) => lines.push([1, v, 0]));
    const xr = p.x, yr = p.y;
    series.push({
      type: "custom", xAxisIndex: i, yAxisIndex: i, z: 1, silent: true, clip: true,
      renderItem: (params: any, api: any) => {
        const cs = params.coordSys;
        const dir = api.value(0), v = api.value(1), major = api.value(2);
        const w = major ? 1.1 : 0.5;
        if (dir === 0) {
          const px = api.coord([v, yr[0]])[0];
          return { type: "line", shape: { x1: px, y1: cs.y, x2: px, y2: cs.y + cs.height }, style: { stroke: "#ffffff", lineWidth: w } };
        }
        const py = api.coord([xr[0], v])[1];
        return { type: "line", shape: { x1: cs.x, y1: py, x2: cs.x + cs.width, y2: py }, style: { stroke: "#ffffff", lineWidth: w } };
      },
      data: lines,
    });

    // error bars
    series.push({
      type: "custom", xAxisIndex: i, yAxisIndex: i, z: 2, silent: true, clip: true,
      renderItem: (params: any, api: any) => {
        const x = api.value(0), y = api.value(1), sx = api.value(2), sy = api.value(3);
        const a = api.coord([x - sx, y]), b = api.coord([x + sx, y]);
        const c = api.coord([x, y - sy]), d = api.coord([x, y + sy]);
        const st = { stroke: "#ababab", lineWidth: 0.7 };
        return {
          type: "group",
          children: [
            { type: "line", shape: { x1: a[0], y1: a[1], x2: b[0], y2: b[1] }, style: st },
            { type: "line", shape: { x1: c[0], y1: c[1], x2: d[0], y2: d[1] }, style: st },
          ],
        };
      },
      data: p.data,
    });

    // points
    series.push({
      type: "scatter", xAxisIndex: i, yAxisIndex: i, z: 3, silent: true, clip: true,
      symbol: "circle", symbolSize: 3.2, itemStyle: { color: "#000" },
      data: p.data.map((d) => [d[0], d[1]]),
    });

    // MR regression lines
    DRAW_ORDER.forEach((m) => {
      const b = p.slope[m], a = p.icpt[m];
      series.push({
        type: "line", name: METHODS[m], xAxisIndex: i, yAxisIndex: i, z: 4, silent: true, clip: true,
        symbol: "none", showSymbol: false,
        lineStyle: { color: METHOD_COLORS[m], width: 1.3 }, itemStyle: { color: METHOD_COLORS[m] },
        data: [[xr[0], a + b * xr[0]], [xr[1], a + b * xr[1]]],
      });
    });
  });

  const graphic: any[] = [];
  COLUMN_TITLES.forEach((t, k) => {
    graphic.push({
      type: "text", x: COL_TITLE_X[k], y: 21, silent: true,
      style: { text: t, fill: "#111", font: `bold 18px ${TITLE_FONT}`, align: "center", verticalAlign: "middle", textAlign: "center", textVerticalAlign: "middle" },
    });
  });
  ROW_LABELS.forEach((t, k) => {
    graphic.push({
      type: "text", x: ROW_LABEL_POS[k][0], y: ROW_LABEL_POS[k][1], silent: true,
      style: { text: t, fill: "#111", font: `bold 18px ${TITLE_FONT}`, align: "center", verticalAlign: "middle", textAlign: "center", textVerticalAlign: "middle" },
    });
  });

  const legend = METHODS.map((m, k) => ({
    data: [{ name: m, icon: "rect" }],
    left: LEGEND_X[k], top: 505, padding: 0, itemWidth: 20, itemHeight: 18,
    selectedMode: false,
    itemStyle: { color: METHOD_COLORS[k], borderWidth: 0 },
    textStyle: { fontFamily: TITLE_FONT, fontWeight: "bold", fontSize: 12.2, color: "#1a1a1a" },
  }));

  return {
    animation: false,
    backgroundColor: "#ffffff",
    grid, xAxis, yAxis, series, graphic, legend,
  };
}

export default function App() {
  const ref = useRef<HTMLDivElement>(null);
  useEffect(() => {
    const chart = echarts.init(ref.current!, undefined, { renderer: "svg" });
    chart.setOption(buildOption() as any);
    return () => chart.dispose();
  }, []);
  return (
    <div
      ref={ref}
      style={{ position: "absolute", left: 0, top: 0, width: 1113, height: 523, background: "#fff" }}
    />
  );
}
